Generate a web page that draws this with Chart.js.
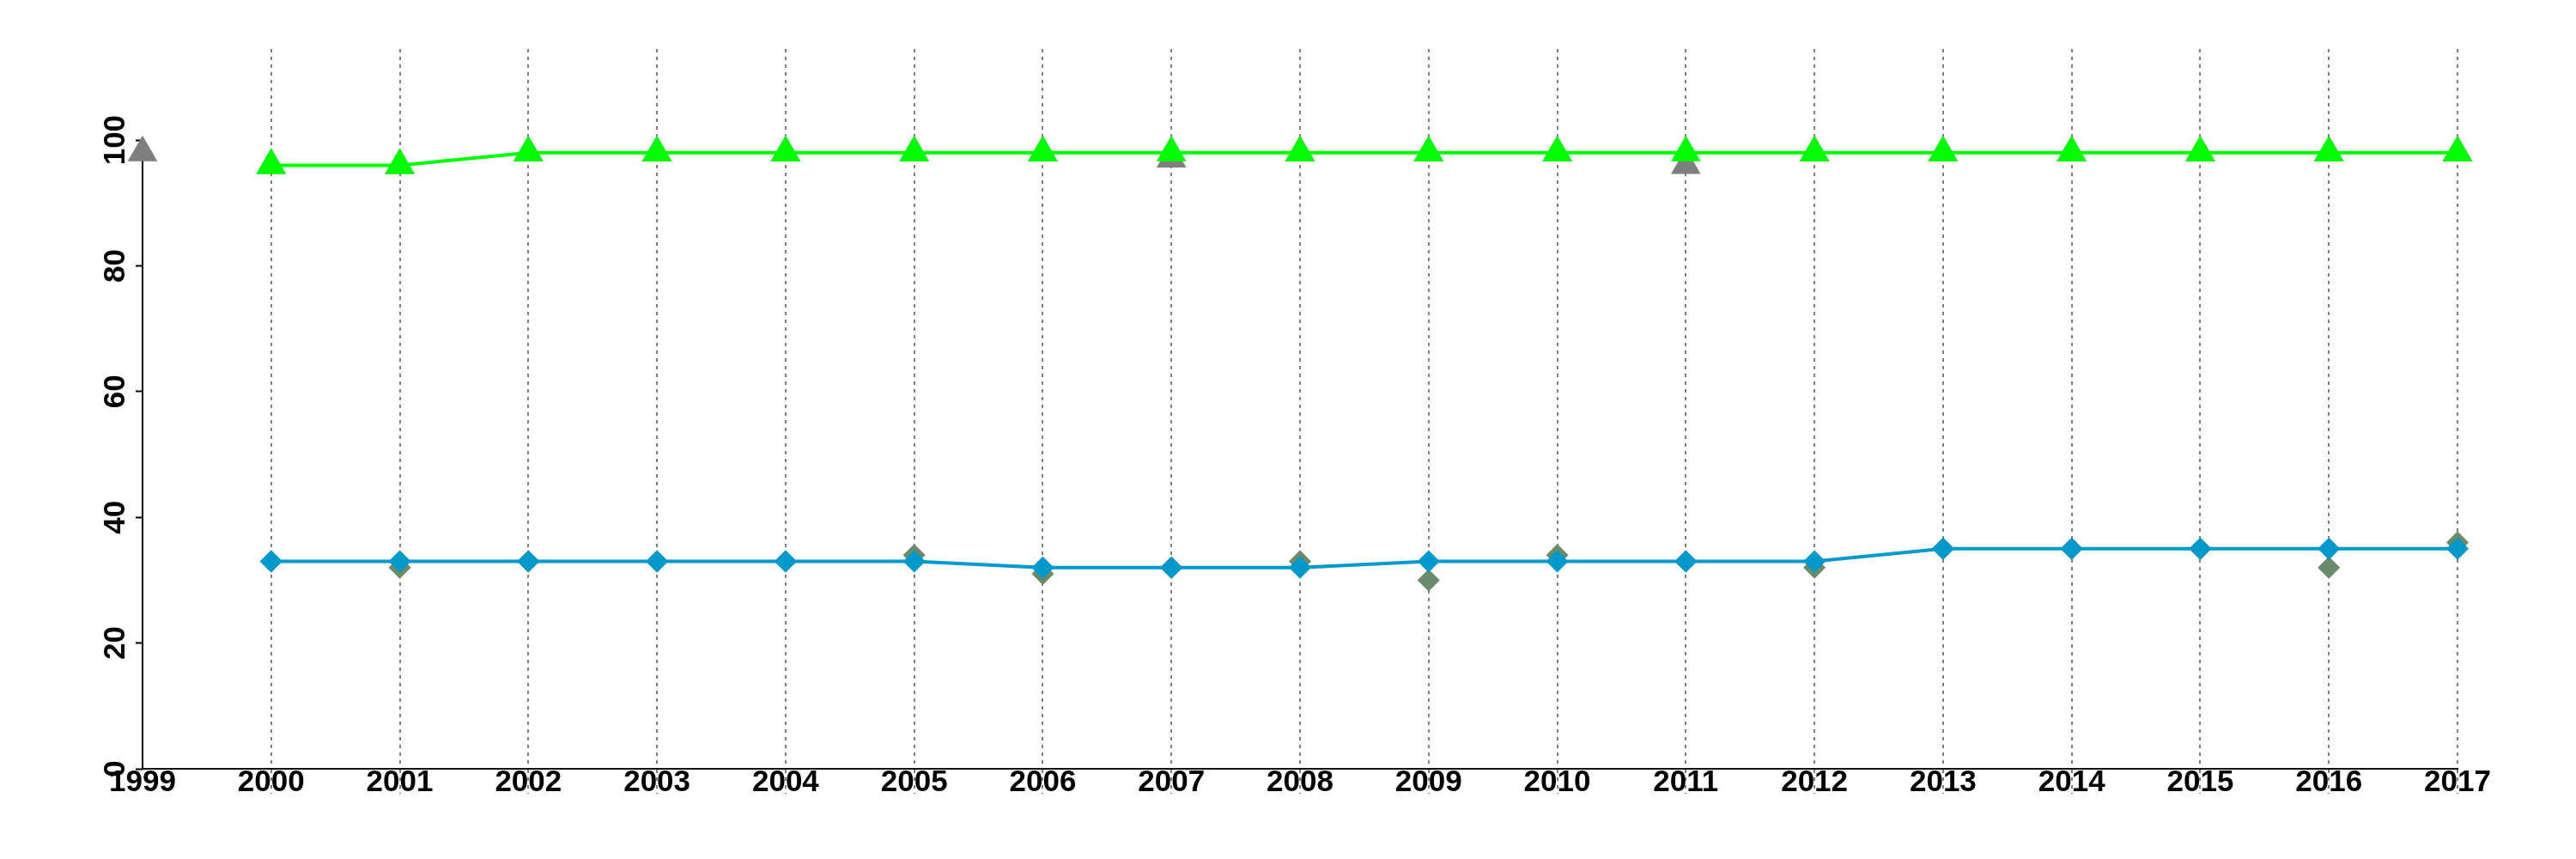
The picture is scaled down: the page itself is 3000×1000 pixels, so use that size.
<!DOCTYPE html>
<html>
<head>
<meta charset="utf-8">
<script src="https://cdn.jsdelivr.net/npm/chart.js@4.4.0/dist/chart.umd.min.js"></script>
<style>
  html, body { margin: 0; padding: 0; background: #fff; }
  canvas { display: block; }
</style>
</head>
<body>
<canvas id="grafico" width="3000" height="1000"></canvas>
<script>
// anos e valores
const anos = [2000, 2001, 2002, 2003, 2004, 2005, 2006, 2007, 2008, 2009, 2010, 2011, 2012, 2013, 2014, 2015, 2016, 2017];
const anosCinza = [1999, 2000, 2001, 2002, 2003, 2004, 2005, 2006, 2007, 2008, 2009, 2010, 2011, 2012, 2013, 2014, 2015, 2016, 2017];
const valoresVerde = [96, 96, 98, 98, 98, 98, 98, 98, 98, 98, 98, 98, 98, 98, 98, 98, 98, 98];
const valoresCinza = [98, 96, 96, 98, 98, 98, 98, 98, 97, 98, 98, 98, 96, 98, 98, 98, 98, 98, 98];
const valoresAzul = [33, 33, 33, 33, 33, 33, 32, 32, 32, 33, 33, 33, 33, 35, 35, 35, 35, 35];
const valoresVerdeCinza = [33, 32, 33, 33, 33, 34, 31, 32, 33, 30, 34, 33, 32, 35, 35, 35, 32, 36];
const ticksY = [0, 20, 40, 60, 80, 100];

function pontos(xs, ys) {
    return xs.map((x, i) => ({ x: x, y: ys[i] }));
}

const fonte = { family: "'Liberation Sans', Arial, sans-serif", size: 35, weight: 'bold' };

// linha do eixo y so ate 100
const eixoY = {
    id: 'eixoY',
    beforeDatasetsDraw(chart) {
        const y = chart.scales.y;
        const ctx = chart.ctx;
        const x = chart.chartArea.left;
        ctx.save();
        ctx.strokeStyle = '#000';
        ctx.lineWidth = 2;
        ctx.beginPath();
        ctx.moveTo(x, y.getPixelForValue(0) + 1);
        ctx.lineTo(x, y.getPixelForValue(100));
        ctx.stroke();
        ctx.restore();
    }
};

const ctx = document.getElementById('grafico').getContext('2d');
const grafico = new Chart(ctx, {
    type: 'line',
    data: {
        datasets: [
            {
                data: pontos(anos, valoresVerde),
                borderColor: '#00ff00',
                backgroundColor: '#00ff00',
                borderWidth: 4,
                pointStyle: 'triangle',
                pointRadius: 20,
                pointBorderWidth: 0,
                tension: 0,
                clip: false,
                order: 1
            },
            {
                data: pontos(anos, valoresAzul),
                borderColor: '#0099cc',
                backgroundColor: '#0099cc',
                borderWidth: 4,
                pointStyle: 'rectRot',
                pointRadius: 13,
                pointBorderWidth: 0,
                tension: 0,
                clip: false,
                order: 2
            },
            {
                data: pontos(anosCinza, valoresCinza),
                showLine: false,
                backgroundColor: '#7f7f7f',
                borderColor: '#7f7f7f',
                pointStyle: 'triangle',
                pointRadius: 20,
                pointBorderWidth: 0,
                clip: false,
                order: 3
            },
            {
                data: pontos(anos, valoresVerdeCinza),
                showLine: false,
                backgroundColor: '#698b69',
                borderColor: '#698b69',
                pointStyle: 'rectRot',
                pointRadius: 13,
                pointBorderWidth: 0,
                clip: false,
                order: 4
            }
        ]
    },
    options: {
        responsive: false,
        animation: false,
        devicePixelRatio: 1,
        layout: { padding: { left: 0, top: 57, right: 138, bottom: 0 } },
        plugins: { legend: { display: false }, tooltip: { enabled: false } },
        scales: {
            x: {
                type: 'linear',
                min: 1999,
                max: 2017,
                afterFit(scale) { scale.height = 105; },
                ticks: {
                    stepSize: 1,
                    color: '#000',
                    font: fonte,
                    padding: -34,
                    maxRotation: 0,
                    autoSkip: false,
                    callback: (v) => String(v)
                },
                grid: {
                    color: (c) => (c.tick && c.tick.value === 1999) ? 'rgba(0,0,0,0)' : '#7f7f7f',
                    tickColor: (c) => (c.tick && c.tick.value === 1999) ? 'rgba(0,0,0,0)' : '#7f7f7f',
                    lineWidth: 2,
                    tickWidth: 2,
                    tickLength: 29,
                    tickBorderDash: [4, 5]
                },
                border: { display: true, color: '#111', width: 2, dash: [4, 5] }
            },
            y: {
                min: 0,
                max: 114.5,
                afterFit(scale) { scale.width = 166; },
                afterBuildTicks(scale) { scale.ticks = ticksY.map(v => ({ value: v })); },
                ticks: {
                    color: '#000',
                    font: fonte,
                    minRotation: 90,
                    maxRotation: 90,
                    crossAlign: 'center',
                    padding: -7
                },
                grid: {
                    drawOnChartArea: false,
                    drawTicks: true,
                    tickLength: 8,
                    tickColor: '#000',
                    tickWidth: 2,
                    color: '#000'
                },
                border: { display: false }
            }
        }
    },
    plugins: [eixoY]
});
</script>
</body>
</html>
